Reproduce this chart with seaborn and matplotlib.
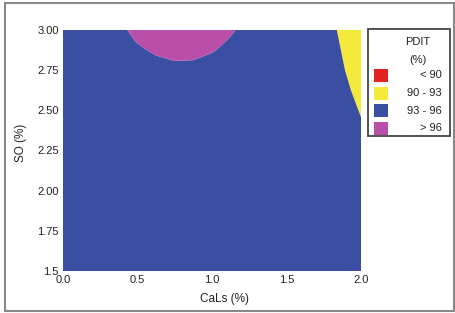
import matplotlib
matplotlib.use('Agg')
import matplotlib.pyplot as plt
from matplotlib.patches import Rectangle
import seaborn as sns

# grid: PDIT (%) at CaLs (x) / SO (y)
cals = [0.0, 0.25, 0.375, 0.5, 0.625, 0.75, 0.875, 1.0, 1.125, 1.25, 1.5, 1.75, 1.875, 2.0]
so = [1.5, 1.75, 2.0, 2.25, 2.5, 2.625, 2.75, 2.8125, 2.875, 2.9375, 3.0]
pdit = [
    [94.0, 94.3, 94.4, 94.5, 94.55, 94.6, 94.6, 94.55, 94.5, 94.4, 94.3, 94.2, 94.1, 94.0],
    [94.2, 94.5, 94.6, 94.7, 94.75, 94.8, 94.8, 94.75, 94.7, 94.6, 94.45, 94.3, 94.15, 94.0],
    [94.4, 94.7, 94.8, 94.9, 94.95, 95.0, 95.0, 94.95, 94.9, 94.8, 94.6, 94.4, 94.2, 94.0],
    [94.6, 94.9, 95.0, 95.1, 95.15, 95.2, 95.2, 95.15, 95.1, 95.0, 94.75, 94.5, 94.2, 93.71],
    [94.80, 95.10, 95.22, 95.31, 95.38, 95.41, 95.40, 95.36, 95.28, 95.18, 94.91, 94.86, 93.86, 92.86],
    [94.96, 95.28, 95.42, 95.53, 95.61, 95.65, 95.64, 95.59, 95.50, 95.38, 95.07, 94.46, 93.46, 92.46],
    [95.09, 95.45, 95.61, 95.74, 95.84, 95.89, 95.88, 95.81, 95.70, 95.56, 95.22, 94.14, 93.14, 92.14],
    [95.15, 95.53, 95.70, 95.85, 95.95, 96.01, 96.00, 95.92, 95.80, 95.65, 95.28, 94.03, 93.03, 92.03],
    [95.21, 95.60, 95.78, 95.94, 96.06, 96.13, 96.11, 96.03, 95.89, 95.72, 95.34, 93.92, 92.92, 91.92],
    [95.25, 95.66, 95.85, 96.03, 96.17, 96.25, 96.23, 96.13, 95.97, 95.79, 95.39, 93.81, 92.81, 91.81],
    [95.28, 95.71, 95.91, 96.11, 96.27, 96.37, 96.34, 96.22, 96.05, 95.85, 95.43, 93.70, 92.70, 91.70],
]
levels = [80, 90, 93, 96, 100]
zone_colors = ['#e3231f', '#f4ea3b', '#3a4fa2', '#b94fa9']
zone_labels = ['< 90', '90 - 93', '93 - 96', '> 96']
x_ticks = [0.0, 0.5, 1.0, 1.5, 2.0]
x_tick_labels = ['0.0', '0.5', '1.0', '1.5', '2.0']
y_ticks = [1.5, 1.75, 2.0, 2.25, 2.5, 2.75, 3.0]
y_tick_labels = ['1.5', '1.75', '2.00', '2.25', '2.50', '2.75', '3.00']

sns.set_style('white')
plt.rcParams['font.family'] = ['Liberation Sans', 'DejaVu Sans']
txt = '#222222'

W, H = 456, 313
fig = plt.figure(figsize=(W / 100, H / 100), dpi=100)
ax = fig.add_axes([63 / W, 1 - 271 / H, (361 - 63) / W, (271 - 30) / H])

ax.contourf(cals, so, pdit, levels=levels, colors=zone_colors, antialiased=True)
ax.set_xlim(0, 2)
ax.set_ylim(1.5, 3.0)
for s in ax.spines.values():
    s.set_visible(False)
ax.set_xticks(x_ticks, x_tick_labels)
ax.set_yticks(y_ticks, y_tick_labels)
ax.tick_params(length=0, labelsize=8, colors=txt, pad=3)
ax.set_xlabel('CaLs (%)', fontsize=8.5, color=txt)
ax.set_ylabel('SO (%)', fontsize=8.5, color=txt)
ax.xaxis.set_label_coords((224 - 63) / 298, -22 / 241)
ax.yaxis.set_label_coords(-36 / 298, 0.53)

# legend drawn by hand (labels are right aligned in the original)
fig.patches.append(Rectangle((368 / W, 1 - 136 / H), 82 / W, 107 / H,
                             transform=fig.transFigure, fill=False,
                             edgecolor='#444444', lw=1.3))
fig.text(418 / W, 1 - 42 / H, 'PDIT', ha='center', va='center', fontsize=8, color=txt)
fig.text(418 / W, 1 - 60 / H, '(%)', ha='center', va='center', fontsize=8, color=txt)
for i, (c, lab) in enumerate(zip(zone_colors, zone_labels)):
    top = 69 + i * 17.6
    fig.patches.append(Rectangle((374 / W, 1 - (top + 13) / H), 14 / W, 13 / H,
                                 transform=fig.transFigure, facecolor=c,
                                 edgecolor='none'))
    fig.text(442 / W, 1 - (top + 6.5) / H, lab, ha='right', va='center',
             fontsize=8, color=txt)

# grey frame round the whole picture
fig.patches.append(Rectangle((5 / W, 2 / H), 449 / W, 308 / H,
                             transform=fig.transFigure, fill=False,
                             edgecolor='#888888', lw=1.5))

fig.savefig('out.png', dpi=100)
